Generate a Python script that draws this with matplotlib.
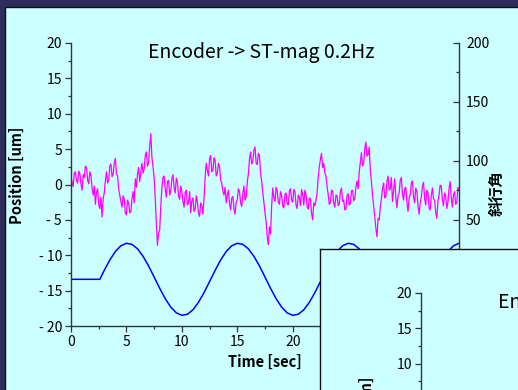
import numpy as np
import matplotlib.pyplot as plt
from matplotlib.patches import Rectangle
from matplotlib.ticker import MultipleLocator

plt.rcParams['font.family'] = ['Noto Sans CJK JP', 'DejaVu Sans']

# Magenta trace (um), one value every 0.1 sec from 0 to 35 sec
mag_vals = [
    1.2, 0.3, -0.3, 1.6, 1.8, 0.5, 0.2, 1.9, 1.5, 0.1,
    -0.8, 1.4, 1.0, 2.6, 2.4, 0.6, 0.1, 1.8, 1.3, -0.5,
    -1.5, -0.2, -2.8, -1.1, -0.6, -2.9, -3.4, -1.8, -4.6, -2.0,
    -1.2, 0.5, 1.8, 0.2, 0.6, 2.6, 2.9, 1.1, 1.4, 3.0,
    3.7, 1.5, 1.2, -0.6, -1.5, -2.4, -3.2, -1.6, -2.0, -4.0,
    -4.3, -2.2, -2.6, -4.0, -3.8, -2.0, -1.0, -2.6, 0.8, -0.4,
    1.5, 2.4, 0.4, 1.8, 3.0, 1.6, 2.2, 4.1, 4.6, 2.6,
    3.1, 5.4, 7.2, 3.8, 2.5, 1.0, -2.0, -5.5, -8.6, -6.8,
    -6.5, -3.0, -0.5, 1.0, 1.2, -0.6, -1.8, 0.4, 0.6, -1.5,
    -0.9, 0.8, 1.4, -0.4, -1.2, 0.9, 0.3, -1.6, -2.1, -0.2,
    -1.0, -2.4, -3.2, -1.1, -0.8, -2.9, -2.6, -1.0, -4.0, -2.3,
    -1.9, -3.8, -3.5, -1.6, -2.4, -4.1, -4.5, -2.6, -3.0, -4.2,
    -2.0, 1.0, 3.0, 2.0, 1.2, 3.6, 4.1, 1.8, 2.0, 3.8,
    3.4, 1.2, 1.6, 3.0, 2.5, 0.6, 0.2, -0.9, -1.5, -0.4,
    -2.6, -1.5, -0.8, -2.7, -3.6, -1.9, -1.7, -3.4, -4.2, -2.5,
    -2.2, -0.6, -1.0, -2.6, -3.1, -1.3, -0.2, -2.2, -1.8, 0.3,
    1.5, 3.6, 4.6, 2.9, 3.2, 4.8, 5.3, 3.0, 2.8, 4.4,
    4.1, 1.6, 0.5, -1.2, -2.5, -4.0, -5.2, -7.4, -8.5, -6.0,
    -7.0, -3.0, -0.5, -1.8, -2.4, -0.4, -0.9, -2.5, -2.8, -1.0,
    -1.5, -3.1, -3.3, -1.4, -1.2, -2.7, -2.9, -0.9, -0.6, -2.2,
    -2.5, -0.7, -1.0, -2.9, -3.4, -1.5, -1.8, -3.0, -0.7, -1.4,
    -2.9, -0.8, -1.4, -3.1, -3.5, -1.9, -2.0, -4.1, -5.0, -2.6,
    -3.0, -2.2, -1.2, 1.0, 2.5, 3.6, 4.4, 2.4, 3.0, 1.6,
    1.2, -0.3, -1.4, -2.8, -2.6, -0.8, -0.9, -2.7, -3.2, -1.5,
    -1.6, -3.0, -2.8, -1.0, -0.5, -2.4, -2.2, -3.6, -3.5, -1.6,
    -1.3, -2.9, -2.7, -0.9, -0.8, -2.3, -2.0, -0.4, 0.5, -0.6,
    1.8, 3.2, 4.5, 2.6, 3.0, 5.1, 6.0, 4.0, 4.2, 5.3,
    2.0, 0.4, -1.5, -3.0, -4.5, -6.2, -7.4, -4.8, -5.0, -3.2,
    -2.0, -0.6, 0.2, -1.9, -1.8, 0.4, 1.2, -0.8, -0.6, 1.0,
    -2.4, -0.9, 0.8, -1.7, -3.3, -1.6, -1.2, 0.6, 1.0, -1.4,
    -2.2, -0.6, -0.4, -2.5, -3.8, -1.9, -1.5, 0.2, 0.5, -1.8,
    -2.6, -0.5, -1.0, -3.0, -4.2, -2.6, -1.8, -0.3, 0.3, -2.0,
    -2.9, -0.8, -1.1, -3.3, -3.6, -1.6, -0.5, -2.0, -2.2, -4.0,
    -4.8, -2.4, -1.5, -0.1, -0.2, -2.1, -3.0, -1.2, -1.6, -3.4,
    -2.5, -0.6, 0.4, -1.8, -3.2, -1.5, -1.0, -2.8, -2.6, -0.4,
    -0.8,
]
mag_t = np.arange(len(mag_vals)) * 0.1

# Blue trace (um): flat until 2.6 sec, then every 0.5 sec from 3.0 sec
blue_vals = [
    -13.4, -13.4,
    -12.13, -10.67, -9.47, -8.66, -8.31, -8.46, -9.09, -10.15, -11.52, -13.08,
    -14.67, -16.13, -17.33, -18.14, -18.49, -18.34, -17.71, -16.65, -15.28, -13.72,
    -12.13, -10.67, -9.47, -8.66, -8.31, -8.46, -9.09, -10.15, -11.52, -13.08,
    -14.67, -16.13, -17.33, -18.14, -18.49, -18.34, -17.71, -16.65, -15.28, -13.72,
    -12.13, -10.67, -9.47, -8.66, -8.31, -8.46, -9.09, -10.15, -11.52, -13.08,
    -14.67, -16.13, -17.33, -18.14, -18.49, -18.34, -17.71, -16.65, -15.28, -13.72,
    -12.13, -10.67, -9.47, -8.66, -8.31,
]
blue_t = np.concatenate([[0.0, 2.6], 3.0 + np.arange(len(blue_vals) - 2) * 0.5])

left_ticks = [-20, -15, -10, -5, 0, 5, 10, 15, 20]
left_labels = ['- 20', '- 15', '- 10', '- 5', '0', '5', '10', '15', '20']
right_ticks = [0, 50, 100, 150, 200]
x_ticks = [0, 5, 10, 15, 20, 25, 30, 35]

title = 'Encoder -> ST-mag 0.2Hz'

W, H = 518, 390
BG = '#ccffff'
SPINE = '#333333'

fig = plt.figure(figsize=(W / 100, H / 100), dpi=100)
fig.patch.set_facecolor('#2e2d5c')
bg = Rectangle((5 / W, -0.01), 1.0, 1 - 7 / H + 0.01,
               transform=fig.transFigure, facecolor=BG,
               edgecolor='#111111', lw=1, zorder=-5)
fig.patches.append(bg)


def px_axes(left, top, w=388, h=283):
    return [left / W, 1 - (top + h) / H, w / W, h / H]


def draw_chart(left, top, z, with_data=True):
    ax = fig.add_axes(px_axes(left, top))
    ax.set_zorder(z)
    ax.patch.set_visible(False)
    if with_data:
        ax.plot(blue_t, blue_vals, color='#0000ff', lw=1.1)
        ax.plot(mag_t, mag_vals, color='#ff00ff', lw=0.9)
    ax.set_xlim(0, 35)
    ax.set_ylim(-20, 20)
    ax.set_yticks(left_ticks)
    ax.set_yticklabels(left_labels)
    ax.set_xticks(x_ticks)
    ax.yaxis.set_minor_locator(MultipleLocator(2.5))
    ax.xaxis.set_minor_locator(MultipleLocator(2.5))
    for s in ['top', 'right']:
        ax.spines[s].set_visible(False)
    for s in ['left', 'bottom']:
        ax.spines[s].set_color(SPINE)
        ax.spines[s].set_linewidth(1.0)
    ax.tick_params(which='major', direction='out', length=4.5, width=0.9,
                   color=SPINE, labelsize=10, pad=2)
    ax.tick_params(which='minor', direction='out', length=2.5, width=0.9,
                   color=SPINE)

    ax2 = ax.twinx()
    ax2.set_zorder(z + 0.1)
    ax2.patch.set_visible(False)
    ax2.set_ylim(-40, 200)
    ax2.set_yticks(right_ticks)
    ax2.yaxis.set_minor_locator(MultipleLocator(25))
    for s in ['top', 'left', 'bottom']:
        ax2.spines[s].set_visible(False)
    ax2.spines['right'].set_color(SPINE)
    ax2.spines['right'].set_linewidth(1.0)
    ax2.tick_params(which='major', direction='in', length=4.5, width=0.9,
                    color=SPINE, labelsize=10, pad=5)
    ax2.tick_params(which='minor', direction='in', length=2.5, width=0.9,
                    color=SPINE)

    ax.text(0.49, 0.965, title, transform=ax.transAxes, ha='center',
            va='center', fontsize=14)
    ax.text(-0.139, 0.534, 'Position [um]', transform=ax.transAxes,
            rotation=90, ha='center', va='center', fontsize=10.5,
            fontweight='bold')
    ax.text(0.5, -0.127, 'Time [sec]', transform=ax.transAxes, ha='center',
            va='center', fontsize=10.5, fontweight='bold')
    ax2.text(1.098, 0.47, '斜行角', transform=ax.transAxes, rotation=90,
             ha='center', va='center', fontsize=11, fontweight='bold')
    return ax


draw_chart(71, 43, 1)

# overlapping second window
win = fig.add_axes([320 / W, -0.05, 1.0, (H - 249) / H + 0.05])
win.set_zorder(5)
win.set_facecolor(BG)
win.set_xticks([])
win.set_yticks([])
for s in ['right', 'bottom']:
    win.spines[s].set_visible(False)
for s in ['left', 'top']:
    win.spines[s].set_color('#111111')
    win.spines[s].set_linewidth(1.0)

draw_chart(421, 293, 6, with_data=False)

fig.savefig('out.png', dpi=100, facecolor=fig.get_facecolor())
